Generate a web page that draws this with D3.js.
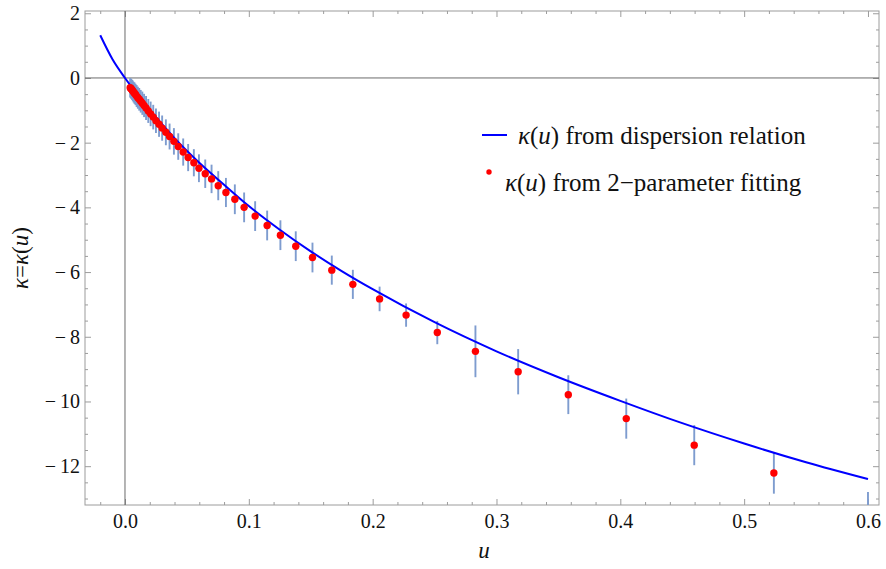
<!DOCTYPE html>
<html>
<head>
<meta charset="utf-8">
<script src="https://cdn.jsdelivr.net/npm/d3@7"></script>
<style>
  html, body { margin: 0; padding: 0; background: #fff; }
  svg { display: block; }
  svg text { font-family: "Liberation Serif", "Times New Roman", Times, "DejaVu Serif", serif !important; fill: #111; }
</style>
</head>
<body>
<svg id="chart" width="886" height="569"></svg>
<script>
// ---- data ----
// dispersion-relation curve
const curveU = [-0.02, -0.01, 0, 0.02, 0.04, 0.06, 0.08, 0.10, 0.125, 0.15, 0.175, 0.20, 0.25, 0.30, 0.35, 0.40, 0.45, 0.50, 0.55, 0.60];
const curveK = [1.32, 0.57, 0, -0.98, -1.86, -2.62, -3.30, -3.96, -4.69, -5.36, -5.97, -6.53, -7.55, -8.45, -9.25, -9.98, -10.67, -11.30, -11.88, -12.40];

// 2-parameter fitting points with error half-widths
const fitU = [0.0042, 0.0046, 0.0051, 0.0057, 0.0063, 0.0070, 0.0077, 0.0085, 0.0094, 0.0104,
              0.0115, 0.0127, 0.0140, 0.0154, 0.0170, 0.0188, 0.0207, 0.0228, 0.0250, 0.0275,
              0.0300, 0.0330, 0.0360, 0.0395, 0.0430, 0.0470, 0.0510, 0.0556, 0.0597, 0.0648,
              0.0699, 0.0753, 0.0815, 0.0887, 0.0962, 0.1051, 0.1148, 0.1255, 0.1379, 0.1514,
              0.1670, 0.1840, 0.2056, 0.2270, 0.2522, 0.2830, 0.3175, 0.3580, 0.4048, 0.4597,
              0.5240, 0.6000];
const fitK = [-0.30, -0.32, -0.34, -0.37, -0.40, -0.44, -0.47, -0.51, -0.56, -0.61,
              -0.66, -0.72, -0.78, -0.85, -0.93, -1.02, -1.11, -1.21, -1.32, -1.43,
              -1.55, -1.68, -1.81, -1.96, -2.12, -2.29, -2.46, -2.62, -2.79, -2.96,
              -3.12, -3.33, -3.54, -3.75, -4.00, -4.27, -4.56, -4.86, -5.20, -5.55,
              -5.94, -6.38, -6.83, -7.33, -7.87, -8.45, -9.08, -9.79, -10.53, -11.35,
              -12.21, -13.40];
const fitErr = [0.30, 0.30, 0.31, 0.31, 0.32, 0.32, 0.33, 0.33, 0.34, 0.34,
                0.35, 0.35, 0.36, 0.36, 0.37, 0.37, 0.38, 0.38, 0.38, 0.39,
                0.39, 0.40, 0.40, 0.41, 0.41, 0.42, 0.42, 0.42, 0.43, 0.44,
                0.44, 0.45, 0.45, 0.46, 0.46, 0.46, 0.46, 0.46, 0.46, 0.46,
                0.45, 0.45, 0.38, 0.36, 0.36, 0.80, 0.70, 0.60, 0.62, 0.62,
                0.64, 0.60];

// tick labels
const xTicks = [0.0, 0.1, 0.2, 0.3, 0.4, 0.5, 0.6];
const yTicks = [2, 0, -2, -4, -6, -8, -10, -12];
const legendLabels = ["from dispersion relation", "from 2\u2212parameter fitting"];
const xLabel = "u";

// ---- layout ----
const FONT = '"Liberation Serif", "Times New Roman", Times, "DejaVu Serif", serif';
const svg = d3.select("#chart");
const L = 85, R = 879, T = 11, B = 505;
const x = d3.scaleLinear().domain([-0.0323, 0.6089]).range([L, R]);
const y = d3.scaleLinear().domain([2.07, -13.2]).range([T, B]);

const frameColor = "#9c9c9c";
svg.append("defs").append("clipPath").attr("id", "clip")
  .append("rect").attr("x", L).attr("y", T).attr("width", R - L).attr("height", B - T);

// minor tick values
const xMinor = d3.range(-0.02, 0.6101, 0.02).filter(v => Math.abs(Math.round(v * 10) - v * 10) > 1e-6);
const yMinor = d3.range(-13, 2.01, 0.5).filter(v => Math.abs(v % 2) > 1e-6);

function styleAxis(g) {
  g.attr("font-family", FONT);
  g.select(".domain").remove();
  g.selectAll(".tick line").attr("stroke", frameColor).attr("stroke-width", 1);
  g.selectAll("text").attr("font-family", FONT)
    .style("font-size", "20px").attr("fill", "#111");
}
const yFmt = d => d < 0 ? "\u2212\u2009" + Math.abs(d) : String(d);

// bottom
svg.append("g").attr("transform", `translate(0,${B})`)
  .call(d3.axisBottom(x).tickValues(xTicks).tickFormat(d3.format(".1f")).tickSizeInner(-6).tickSizeOuter(0).tickPadding(9))
  .call(styleAxis);
svg.append("g").attr("transform", `translate(0,${B})`)
  .call(d3.axisBottom(x).tickValues(xMinor).tickFormat("").tickSizeInner(-3).tickSizeOuter(0))
  .call(styleAxis);
// top
svg.append("g").attr("transform", `translate(0,${T})`)
  .call(d3.axisTop(x).tickValues(xTicks).tickFormat("").tickSizeInner(-6).tickSizeOuter(0))
  .call(styleAxis);
svg.append("g").attr("transform", `translate(0,${T})`)
  .call(d3.axisTop(x).tickValues(xMinor).tickFormat("").tickSizeInner(-3).tickSizeOuter(0))
  .call(styleAxis);
// left
svg.append("g").attr("transform", `translate(${L},0)`)
  .call(d3.axisLeft(y).tickValues(yTicks).tickFormat(yFmt).tickSizeInner(-6).tickSizeOuter(0).tickPadding(5))
  .call(styleAxis);
svg.append("g").attr("transform", `translate(${L},0)`)
  .call(d3.axisLeft(y).tickValues(yMinor).tickFormat("").tickSizeInner(-3).tickSizeOuter(0))
  .call(styleAxis);
// right
svg.append("g").attr("transform", `translate(${R},0)`)
  .call(d3.axisRight(y).tickValues(yTicks).tickFormat("").tickSizeInner(-6).tickSizeOuter(0))
  .call(styleAxis);
svg.append("g").attr("transform", `translate(${R},0)`)
  .call(d3.axisRight(y).tickValues(yMinor).tickFormat("").tickSizeInner(-3).tickSizeOuter(0))
  .call(styleAxis);

// frame
svg.append("rect").attr("x", L).attr("y", T).attr("width", R - L).attr("height", B - T)
  .attr("fill", "none").attr("stroke", frameColor).attr("stroke-width", 1);

// zero axes
svg.append("line").attr("x1", x(0)).attr("x2", x(0)).attr("y1", T).attr("y2", B)
  .attr("stroke", "#5a5a5a").attr("stroke-width", 0.9);
svg.append("line").attr("x1", L).attr("x2", R).attr("y1", y(0)).attr("y2", y(0))
  .attr("stroke", "#5a5a5a").attr("stroke-width", 0.9);

const plot = svg.append("g").attr("clip-path", "url(#clip)");

const pts = fitU.map((u, i) => ({ u, k: fitK[i], e: fitErr[i] }));

// error bars
plot.append("g").selectAll("line").data(pts).join("line")
  .attr("x1", d => x(d.u)).attr("x2", d => x(d.u))
  .attr("y1", d => y(d.k + d.e)).attr("y2", d => y(d.k - d.e))
  .attr("stroke", "#7e9ccf").attr("stroke-width", 1.9);

// curve
const line = d3.line().x((d, i) => x(curveU[i])).y(d => y(d)).curve(d3.curveMonotoneX);
plot.append("path").attr("d", line(curveK)).attr("fill", "none")
  .attr("stroke", "#0000ff").attr("stroke-width", 2);

// points
plot.append("g").selectAll("circle").data(pts).join("circle")
  .attr("cx", d => x(d.u)).attr("cy", d => y(d.k)).attr("r", 3.7).attr("fill", "#ff0000");

// legend
const lg = svg.append("g").attr("font-family", FONT);
lg.append("line").attr("x1", 482).attr("x2", 507).attr("y1", 135).attr("y2", 135)
  .attr("stroke", "#0000ff").attr("stroke-width", 2);
lg.append("circle").attr("cx", 489).attr("cy", 172).attr("r", 2.7).attr("fill", "#ff0000");

function legendText(xp, yp, rest) {
  const t = lg.append("text").attr("x", xp).attr("y", yp).attr("font-family", FONT).style("font-size", "25px");
  t.append("tspan").attr("font-style", "italic").text("\u03BA");
  t.append("tspan").text("(");
  t.append("tspan").attr("font-style", "italic").text("u");
  t.append("tspan").text(") " + rest);
}
legendText(518, 144, legendLabels[0]);
legendText(505, 191, legendLabels[1]);

// axis labels
svg.append("text").attr("x", x(0.29)).attr("y", 558).attr("text-anchor", "middle").attr("font-family", FONT)
  .style("font-size", "23px").attr("font-style", "italic").text(xLabel);

const yl = svg.append("text").attr("transform", `translate(28,${(T + B) / 2}) rotate(-90)`)
  .attr("text-anchor", "middle").attr("font-family", FONT).style("font-size", "23px");
yl.append("tspan").attr("font-style", "italic").text("\u03BA");
yl.append("tspan").text("=");
yl.append("tspan").attr("font-style", "italic").text("\u03BA");
yl.append("tspan").text("(");
yl.append("tspan").attr("font-style", "italic").text("u");
yl.append("tspan").text(")");
</script>
</body>
</html>
